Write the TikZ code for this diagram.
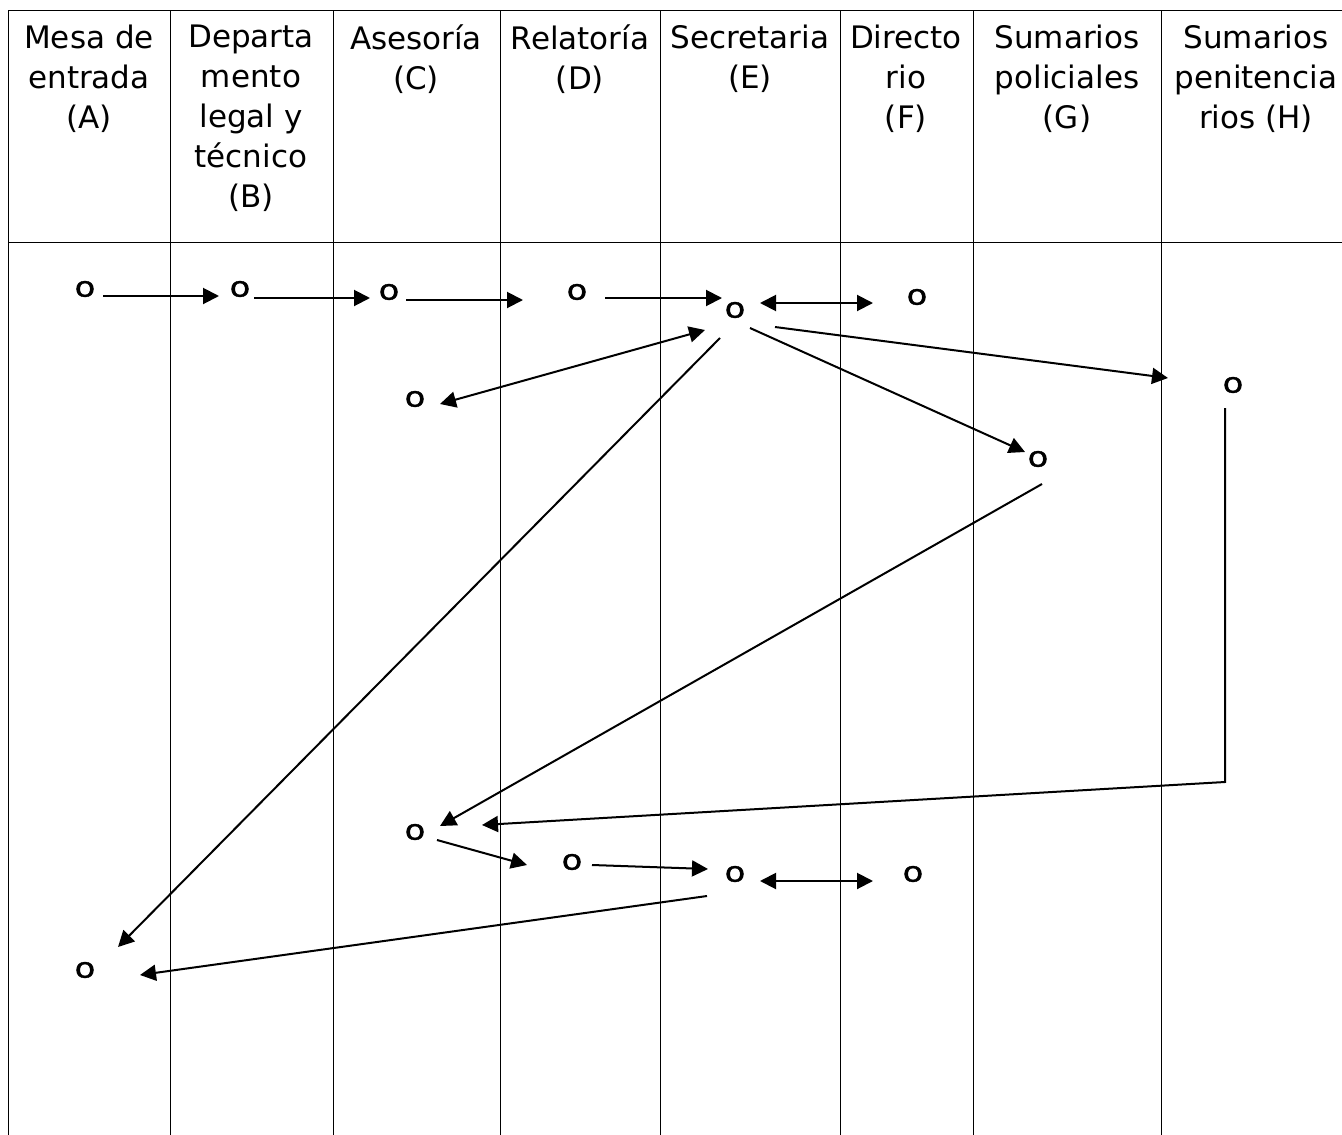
\documentclass[tikz,border=0pt]{standalone}
\usepackage{fontspec}
\setmainfont{DejaVu Sans}
\newfontfamily\dotfont[FakeBold=1.2]{DejaVu Sans}
\usetikzlibrary{arrows.meta}

\begin{document}
\begin{tikzpicture}[x=1pt,y=-1pt,
    lane/.style={line width=1pt},
    head/.style={anchor=north,align=center,inner sep=0pt,
      font=\fontsize{31}{40}\selectfont,execute at begin node=\strut},
    pt/.style={inner sep=0pt,font=\dotfont\fontsize{28}{28}\selectfont},
    arr/.style={line width=2pt,-{Triangle[length=16pt,width=16pt]}},
    darr/.style={line width=2pt,{Triangle[length=16pt,width=16pt]}-{Triangle[length=16pt,width=16pt]}}]
    \useasboundingbox (0,0) rectangle (1342,1135);
    % lanes
    \draw [lane] (8,1135) -- (8,10) -- (1342,10); \draw [lane] (8,242) -- (1342,242);
    \foreach \x in {170,333,500,660,840,973,1161} \draw [lane] (\x,10) -- (\x,1135);
    \node [head] (hA) at (89,25) {Mesa de\\entrada\\(A)};
    \node [head] (hB) at (251,25) {Departa\\mento\\legal y\\técnico\\(B)};
    \node [head] (hC) at (416,25) {Asesoría\\(C)};
    \node [head] (hD) at (580,25) {Relatoría\\(D)};
    \node [head] (hE) at (750,25) {Secretaria\\(E)};
    \node [head] (hF) at (906,25) {Directo\\rio\\(F)};
    \node [head] (hG) at (1067,25) {Sumarios\\policiales\\(G)};
    \node [head] (hH) at (1256,25) {Sumarios\\penitencia\\rios (H)};
    % steps
    \node [pt] (a1) at (85,289) {\scalebox{1.2}[1]{o}}; \node [pt] (b1) at (240,289) {\scalebox{1.2}[1]{o}};
    \node [pt] (c1) at (389,292) {\scalebox{1.2}[1]{o}}; \node [pt] (d1) at (577,292) {\scalebox{1.2}[1]{o}};
    \node [pt] (e1) at (735,310) {\scalebox{1.2}[1]{o}}; \node [pt] (f1) at (917,297) {\scalebox{1.2}[1]{o}};
    \node [pt] (c2) at (415,399) {\scalebox{1.2}[1]{o}}; \node [pt] (g1) at (1038,459) {\scalebox{1.2}[1]{o}};
    \node [pt] (h1) at (1233,385) {\scalebox{1.2}[1]{o}}; \node [pt] (c3) at (415,832) {\scalebox{1.2}[1]{o}};
    \node [pt] (d2) at (572,862) {\scalebox{1.2}[1]{o}}; \node [pt] (e2) at (735,874) {\scalebox{1.2}[1]{o}};
    \node [pt] (f2) at (913,874) {\scalebox{1.2}[1]{o}}; \node [pt] (a2) at (85,970) {\scalebox{1.2}[1]{o}};
    \coordinate (hbend) at (1225,782);
    % flow
    \draw [arr] ([shift={(18,7)}]a1.center) -- ([shift={(-21,7)}]b1.center);
    \draw [arr] ([shift={(14,9)}]b1.center) -- ([shift={(-19,6)}]c1.center);
    \draw [arr] ([shift={(17,8)}]c1.center) -- ([shift={(-54,8)}]d1.center);
    \draw [arr] ([shift={(28,6)}]d1.center) -- ([shift={(-13,-12)}]e1.center);
    \draw [darr] ([shift={(25,-7)}]e1.center) -- ([shift={(-44,6)}]f1.center);
    \draw [darr] ([shift={(25,5)}]c2.center) -- ([shift={(-30,20)}]e1.center);
    \draw [arr] ([shift={(-15,28)}]e1.center) -- ([shift={(33,-23)}]a2.center);
    \draw [arr] ([shift={(15,18)}]e1.center) -- ([shift={(-13,-7)}]g1.center);
    \draw [arr] ([shift={(40,17)}]e1.center) -- ([shift={(-65,-7)}]h1.center);
    \draw [arr] ([shift={(-8,23)}]h1.center) -- (hbend) -- ([shift={(67,-7)}]c3.center);
    \draw [arr] ([shift={(4,25)}]g1.center) -- ([shift={(25,-6)}]c3.center);
    \draw [arr] ([shift={(22,8)}]c3.center) -- ([shift={(-45,3)}]d2.center);
    \draw [arr] ([shift={(20,3)}]d2.center) -- ([shift={(-27,-5)}]e2.center);
    \draw [darr] ([shift={(25,7)}]e2.center) -- ([shift={(-40,7)}]f2.center);
    \draw [arr] ([shift={(-28,22)}]e2.center) -- ([shift={(55,5)}]a2.center);
\end{tikzpicture}
\end{document}
